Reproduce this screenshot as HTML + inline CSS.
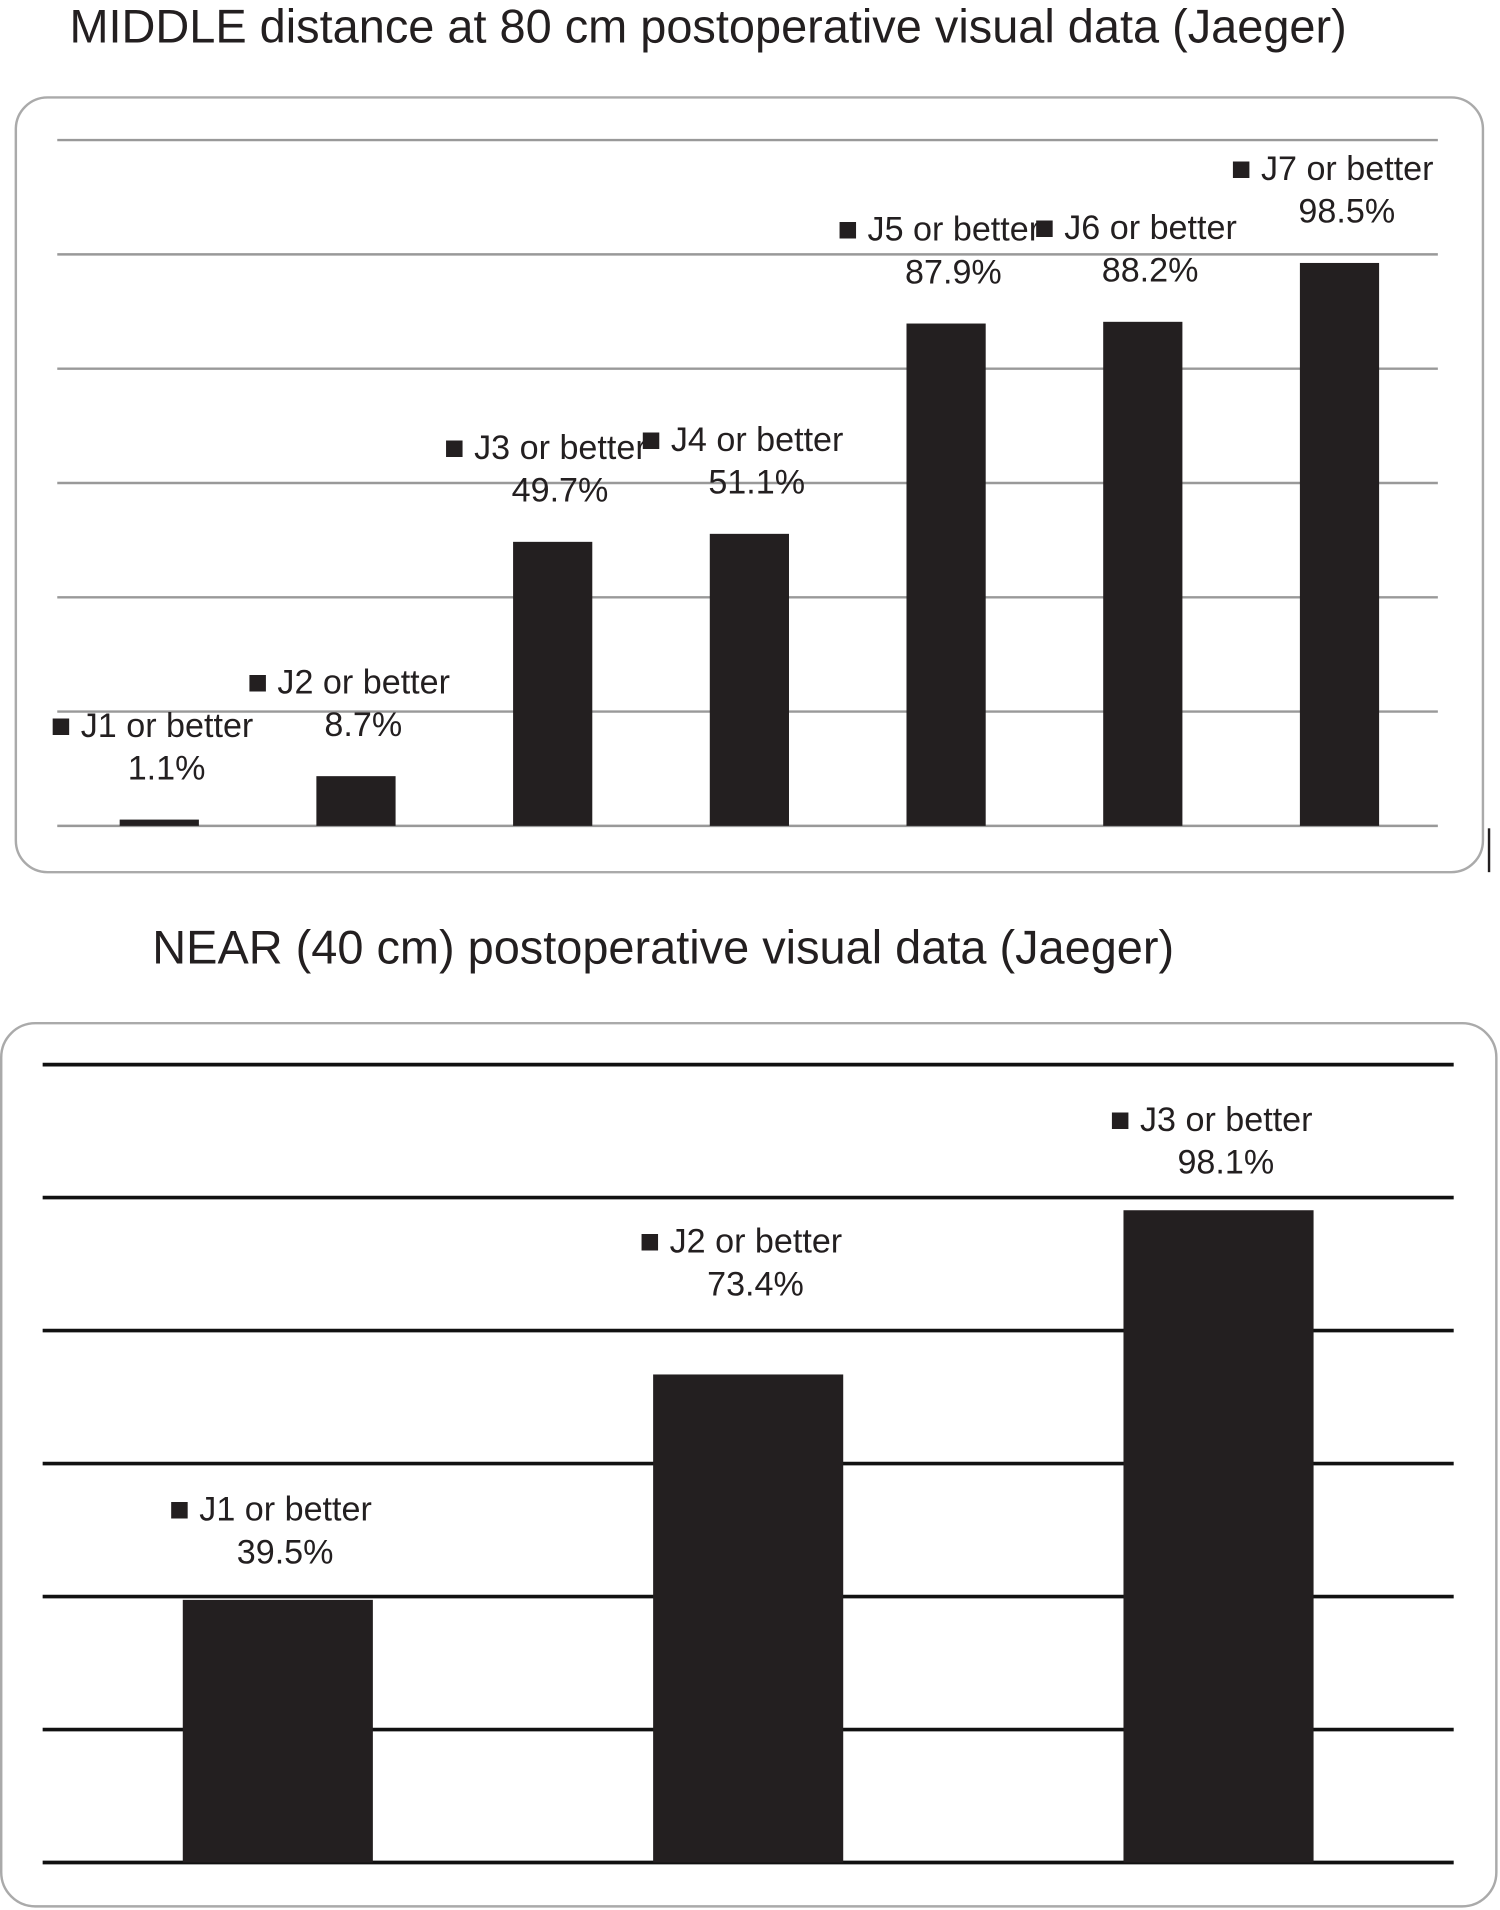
<!DOCTYPE html>
<html><head><meta charset="utf-8"><style>
html,body{margin:0;padding:0;background:#fff;}
svg{display:block;font-family:"Liberation Sans",Arial,sans-serif;}
</style></head><body>
<svg id="chart" width="1500" height="1910" viewBox="0 0 1231 1568" preserveAspectRatio="none" xmlns="http://www.w3.org/2000/svg">
<text x="57" y="35" font-size="38.5" fill="#231f20">MIDDLE distance at 80 cm postoperative visual data (Jaeger)</text>
<rect x="13" y="80" width="1204" height="636" rx="26" fill="none" stroke="#aaa" stroke-width="2"/>
<line x1="1222" y1="680" x2="1222" y2="716" stroke="#231f20" stroke-width="2"/>
<g id="g1"></g>
<text x="125" y="791" font-size="38.5" fill="#231f20">NEAR (40 cm) postoperative visual data (Jaeger)</text>
<rect x="1" y="840" width="1227" height="725" rx="28" fill="none" stroke="#aaa" stroke-width="2"/>
<g id="g2"></g>
</svg>
<script>
const midCategories = ["J1 or better","J2 or better","J3 or better","J4 or better","J5 or better","J6 or better","J7 or better"];
const midValues = [1.1, 8.7, 49.7, 51.1, 87.9, 88.2, 98.5];
const nearCategories = ["J1 or better","J2 or better","J3 or better"];
const nearValues = [39.5, 73.4, 98.1];
const gridTicks = [0, 20, 40, 60, 80, 100, 120];

const NS = "http://www.w3.org/2000/svg";
function mk(tag, attrs, parent){
  const e = document.createElementNS(NS, tag);
  for (const k in attrs) e.setAttribute(k, attrs[k]);
  parent.appendChild(e);
  return e;
}
function draw(gid, cats, vals, cfg){
  const g = document.getElementById(gid);
  const y = v => cfg.base - (v / 120) * (cfg.base - cfg.top);
  const step = (cfg.x1 - cfg.x0) / cats.length;
  const xc = i => cfg.x0 + step * (i + 0.5);
  gridTicks.forEach(t => {
    const l = mk("line", {x1: cfg.gx0, x2: cfg.gx1, y1: y(t), y2: y(t), stroke: cfg.gridColor, "stroke-width": cfg.gridW}, g);
    
    
  });
  cats.forEach((c, i) => {
    const top = y(vals[i]);
    const lift = (cfg.lift && i === cfg.liftIdx) ? cfg.lift : 0;
    const b = mk("rect", {x: xc(i) - cfg.bw / 2, y: top, width: cfg.bw, height: cfg.base - top, fill: "#231f20"}, g);
    
    
    const t1 = mk("text", {x: xc(i) - 6, y: top - cfg.l1 - lift, "font-size": 28, "text-anchor": "middle", fill: "#231f20"}, g);
    t1.textContent = "\u25A0 " + c;
    
    
    const t2 = mk("text", {x: xc(i) + 6, y: top - cfg.l2 - lift, "font-size": 28, "text-anchor": "middle", fill: "#231f20"}, g);
    t2.textContent = vals[i].toFixed(1) + "%";
    
    
  });
}
draw("g1", midCategories, midValues, {top:115, base:678, x0:50, x1:1180, gx0:47, gx1:1180, bw:65, l1:68, l2:33, gridColor:"#999", gridW:2});
draw("g2", nearCategories, nearValues, {top:874, base:1529, x0:35, x1:1193, gx0:35, gx1:1193, bw:156, l1:65, l2:30, gridColor:"#111", gridW:3, lift:35, liftIdx:1});
</script>
</body></html>
